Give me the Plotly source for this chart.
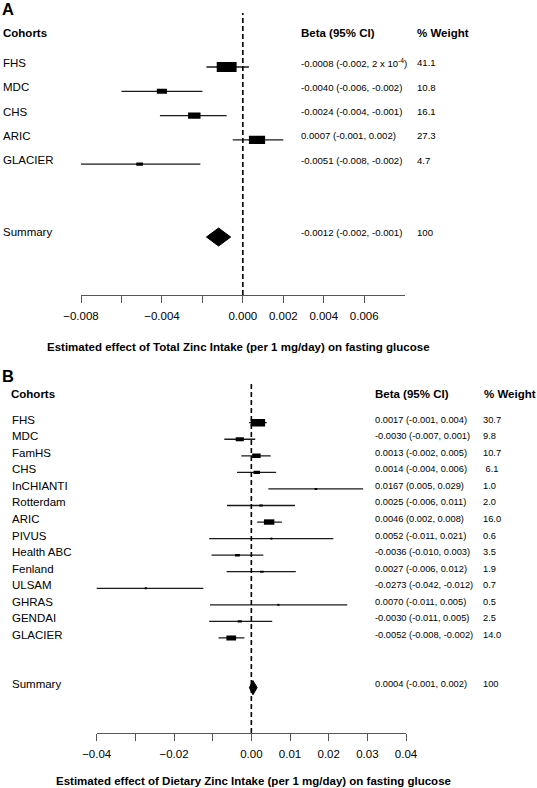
import plotly.graph_objects as go

# ---------------- data ----------------
# Panel A: total zinc intake
cohorts_a = ["FHS", "MDC", "CHS", "ARIC", "GLACIER"]
beta_a = [-0.0008, -0.0040, -0.0024, 0.0007, -0.0051]
lo_a = [-0.0018, -0.0060, -0.0041, -0.0005, -0.0081]
hi_a = [0.0003, -0.0020, -0.0008, 0.0020, -0.0021]
weight_a = [41.1, 10.8, 16.1, 27.3, 4.7]
ci_text_a = ["-0.0008 (-0.002, 2 x 10<sup>-4</sup>)", "-0.0040 (-0.006, -0.002)",
             "-0.0024 (-0.004, -0.001)", "0.0007 (-0.001, 0.002)",
             "-0.0051 (-0.008, -0.002)"]
summary_a = [-0.0012, -0.0018, -0.0006]  # est, lo, hi
summary_text_a = "-0.0012 (-0.002, -0.001)"
summary_weight_a = "100"
ticks_a = [-0.008, -0.004, 0.0, 0.002, 0.004, 0.006]
ticktext_a = ["\u22120.008", "\u22120.004", "0.000", "0.002", "0.004", "0.006"]
minor_ticks_a = [-0.006, -0.002]

# Panel B: dietary zinc intake
cohorts_b = ["FHS", "MDC", "FamHS", "CHS", "InCHIANTI", "Rotterdam", "ARIC", "PIVUS",
             "Health ABC", "Fenland", "ULSAM", "GHRAS", "GENDAI", "GLACIER"]
beta_b = [0.0017, -0.0030, 0.0013, 0.0014, 0.0167, 0.0025, 0.0046, 0.0052,
          -0.0036, 0.0027, -0.0273, 0.0070, -0.0030, -0.0052]
lo_b = [-0.0006, -0.0070, -0.0026, -0.0037, 0.0044, -0.0063, 0.0015, -0.0109,
        -0.0103, -0.0064, -0.0423, -0.0107, -0.0109, -0.0085]
hi_b = [0.0040, 0.0010, 0.0050, 0.0064, 0.0289, 0.0113, 0.0079, 0.0212,
        0.0031, 0.0115, -0.0124, 0.0248, 0.0054, -0.0018]
weight_b = [30.7, 9.8, 10.7, 6.1, 1.0, 2.0, 16.0, 0.6, 3.5, 1.9, 0.7, 0.5, 2.5, 14.0]
weight_text_b = ["30.7", "9.8", "10.7", "\u00a06.1", "1.0", "2.0", "16.0", "0.6", "3.5",
                 "1.9", "0.7", "0.5", "2.5", "14.0"]
ci_text_b = ["0.0017 (-0.001, 0.004)", "-0.0030 (-0.007, 0.001)", "0.0013 (-0.002, 0.005)",
             "0.0014 (-0.004, 0.006)", "0.0167 (0.005, 0.029)", "0.0025 (-0.006, 0.011)",
             "0.0046 (0.002, 0.008)", "0.0052 (-0.011, 0.021)", "-0.0036 (-0.010, 0.003)",
             "0.0027 (-0.006, 0.012)", "-0.0273 (-0.042, -0.012)", "0.0070 (-0.011, 0.005)",
             "-0.0030 (-0.011, 0.005)", "-0.0052 (-0.008, -0.002)"]
summary_b = [0.0004, -0.0005, 0.0015]
summary_text_b = "0.0004 (-0.001, 0.002)"
summary_weight_b = "100"
ticks_b = [-0.04, -0.02, 0.0, 0.01, 0.02, 0.03, 0.04]
ticktext_b = ["\u22120.04", "\u22120.02", "0.00", "0.01", "0.02", "0.03", "0.04"]
minor_ticks_b = [-0.03, -0.01]

title_a = "Estimated effect of Total Zinc Intake (per 1 mg/day) on fasting glucose"
title_b = "Estimated effect of Dietary Zinc Intake (per 1 mg/day) on fasting glucose"

# ---------------- layout helpers ----------------
W, H = 537, 788
FONT = "Arial, 'Liberation Sans', sans-serif"


def px(p):
    return p / W


def py(p):
    return 1 - p / H


fig = go.Figure()
shapes = []
annotations = []


def panel(xa, ya, cohorts, beta, lo, hi, weight, ci_text, wtext, summary, stext, swt,
          summary_row, box_k, box_ratio, diamond_h, label_x, beta_x, weight_x, yshift, vsize):
    rows = list(range(1, len(cohorts) + 1))
    # CI lines
    xs, ys = [], []
    for r, a, b in zip(rows, lo, hi):
        xs += [a, b, None]
        ys += [r, r, None]
    fig.add_trace(go.Scatter(x=xs, y=ys, mode="lines", xaxis=xa, yaxis=ya,
                             line=dict(color="#1a1a1a", width=1.3),
                             hoverinfo="skip", showlegend=False))
    # boxes (size from weight)
    for r, b, w in zip(rows, beta, weight):
        bw = max(box_k * w ** 0.5, 2.0)
        bh = max(bw * box_ratio, 2.0)
        shapes.append(dict(type="rect", xref=xa, yref=ya, xsizemode="pixel",
                           ysizemode="pixel", xanchor=b, yanchor=r,
                           x0=-bw / 2, x1=bw / 2, y0=-bh / 2, y1=bh / 2,
                           fillcolor="black", line=dict(width=0)))
    # summary diamond
    est, slo, shi = summary
    fig.add_trace(go.Scatter(x=[slo, est, shi, est, slo],
                             y=[summary_row, summary_row - diamond_h, summary_row,
                                summary_row + diamond_h, summary_row],
                             mode="lines", fill="toself", fillcolor="black",
                             line=dict(color="black", width=1), xaxis=xa, yaxis=ya,
                             hoverinfo="skip", showlegend=False))
    # dashed null line
    shapes.append(dict(type="line", xref=xa, yref=ya + " domain", x0=0, x1=0, y0=0, y1=1,
                       line=dict(color="black", width=1.6, dash="5px,3px")))
    # text columns
    for r, name, ct, wt in zip(rows, cohorts, ci_text, wtext):
        annotations.append(dict(x=px(label_x), xref="paper", y=r, yref=ya, text=name,
                                xanchor="left", yanchor="middle", showarrow=False,
                                yshift=yshift, font=dict(size=11.5, family=FONT, color="black")))
        annotations.append(dict(x=px(beta_x), xref="paper", y=r, yref=ya, text=ct,
                                xanchor="left", yanchor="middle", showarrow=False,
                                yshift=yshift, font=dict(size=vsize, family=FONT, color="black")))
        annotations.append(dict(x=px(weight_x), xref="paper", y=r, yref=ya, text=wt,
                                xanchor="left", yanchor="middle", showarrow=False,
                                yshift=yshift, font=dict(size=vsize, family=FONT, color="black")))
    for x0, t, f in [(label_x, "Summary", 11.5), (beta_x, stext, vsize), (weight_x, swt, vsize)]:
        annotations.append(dict(x=px(x0), xref="paper", y=summary_row, yref=ya, text=t,
                                xanchor="left", yanchor="middle", showarrow=False,
                                yshift=yshift + 1, font=dict(size=f, family=FONT, color="black")))


panel("x", "y", cohorts_a, beta_a, lo_a, hi_a, weight_a, ci_text_a,
      [str(w) for w in weight_a], summary_a, summary_text_a, summary_weight_a,
      8, 3.1, 0.5, 0.37, 1, 298.5, 414.5, 4, 9.6)
panel("x2", "y2", cohorts_b, beta_b, lo_b, hi_b, weight_b, ci_text_b,
      weight_text_b, summary_b, summary_text_b, summary_weight_b,
      17, 2.6, 0.52, 0.43, 9.5, 373, 481, 3, 9.3)


def hdr(x, y, t, size=11.5, anchor="left"):
    annotations.append(dict(x=px(x), xref="paper", y=py(y), yref="paper",
                            text="<b>" + t + "</b>", xanchor=anchor, yanchor="middle",
                            showarrow=False, font=dict(size=size, family=FONT, color="black")))


hdr(0, 9.5, "A", 16.5)
hdr(0.5, 33.5, "Cohorts")
hdr(298.5, 33.5, "Beta (95% CI)")
hdr(414.5, 33.5, "% Weight")
hdr(238.5, 347, title_a, anchor="center")

hdr(0, 376, "B", 16.5)
hdr(9, 393.5, "Cohorts")
hdr(372.5, 393.5, "Beta (95% CI)")
hdr(482, 393.5, "% Weight")
hdr(253, 780.5, title_b, anchor="center")

axis_common = dict(showline=True, linecolor="#555555", linewidth=1, ticks="outside",
                   ticklen=7, tickcolor="#555555", tickwidth=1, showgrid=False,
                   zeroline=False, tickfont=dict(size=11.5, family=FONT, color="black"),
                   ticklabelstandoff=3, fixedrange=True)

fig.update_layout(
    width=W, height=H, margin=dict(l=0, r=0, t=0, b=0, pad=0, autoexpand=False),
    paper_bgcolor="white", plot_bgcolor="white", showlegend=False,
    xaxis=dict(domain=[px(81), px(404.7)], range=[-0.008, 0.008], anchor="y",
               tickvals=ticks_a, ticktext=ticktext_a,
               minor=dict(tickvals=minor_ticks_a, ticks="outside", ticklen=7,
                          tickcolor="#555555", tickwidth=1, showgrid=False),
               **axis_common),
    yaxis=dict(domain=[py(295), py(13)], range=[10.387, -1.223], anchor="x",
               visible=False, fixedrange=True),
    xaxis2=dict(domain=[px(96.7), px(406)], range=[-0.04, 0.04], anchor="y2",
                tickvals=ticks_b, ticktext=ticktext_b,
                minor=dict(tickvals=minor_ticks_b, ticks="outside", ticklen=7,
                           tickcolor="#555555", tickwidth=1, showgrid=False),
                **axis_common),
    yaxis2=dict(domain=[py(733), py(383)], range=[19.74, -1.397], anchor="x2",
                visible=False, fixedrange=True),
    shapes=shapes, annotations=annotations,
)

fig.write_html("out.html", config={"displayModeBar": False, "staticPlot": True},
               post_script="document.body.style.margin='0';document.body.style.overflow='hidden';")
